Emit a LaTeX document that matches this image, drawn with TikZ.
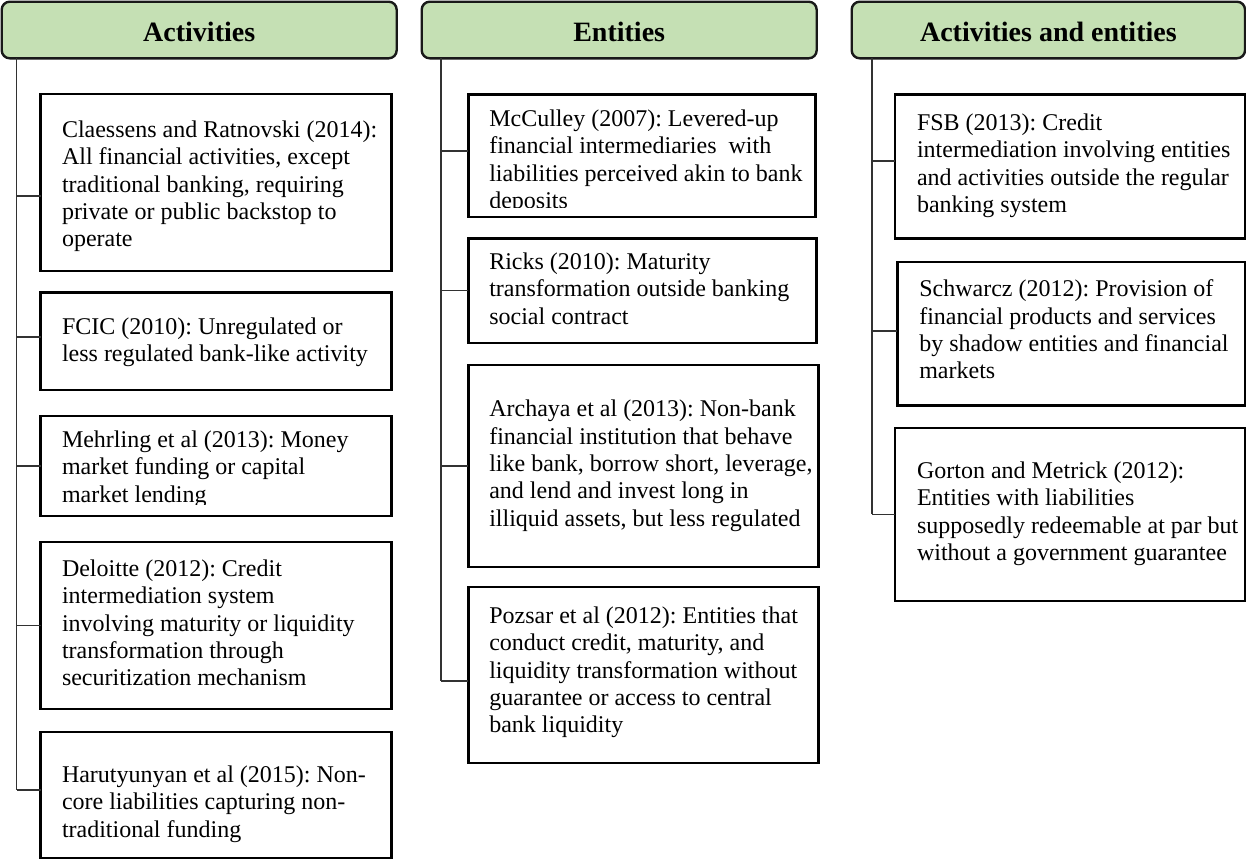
\documentclass[tikz,border=0pt]{standalone}
\usepackage{fontspec}
\setmainfont{Liberation Serif}
\frenchspacing
\definecolor{hdrgreen}{RGB}{197,224,180}
\definecolor{linkgray}{RGB}{50,50,50}
\begin{document}
\begin{tikzpicture}[x=1pt,y=-1pt,
  hdr/.style={draw=black!90, line width=2.4pt, fill=hdrgreen, rounded corners=8pt,
    font=\fontsize{28}{30}\selectfont\bfseries, text height=23pt, text depth=0pt,
    inner sep=0pt, outer sep=0pt},
  card/.style={draw=black, line width=2.5pt, inner sep=0pt, outer sep=0pt, anchor=north west},
  txt/.style={font=\fontsize{24}{27.3}\selectfont, align=left, inner sep=0pt,
    outer sep=0pt, anchor=north west, execute at begin node=\strut},
  link/.style={draw=linkgray, line width=1.4pt}]
\useasboundingbox (0,0) rectangle (1246,860);

% column headers
\node[hdr, minimum width=395pt, minimum height=56.6pt] (hA) at (199.2,30) {Activities};
\node[hdr, minimum width=395pt, minimum height=56.6pt] (hE) at (619.2,30) {Entities};
\node[hdr, minimum width=393.3pt, minimum height=56.6pt] (hB) at (1048.35,30) {Activities and entities};

% trunk positions
\coordinate (tA) at (16.5,0);
\coordinate (tE) at (441,0);
\coordinate (tB) at (872,0);

% ---- Activities column ----
\node[card, minimum width=351pt, minimum height=177pt] (a1) at (40.7,94) {};
\node[card, minimum width=351pt, minimum height=97.3pt] (a2) at (40.7,292.7) {};
\node[card, minimum width=351pt, minimum height=100pt] (a3) at (40.7,416) {};
\node[card, minimum width=351pt, minimum height=167pt] (a4) at (40.7,542) {};
\node[card, minimum width=351pt, minimum height=126pt] (a5) at (40.7,732) {};

\node[txt] (a1t) at (62,120.9) {Claessens and Ratnovski (2014):\\All financial activities, except\\traditional banking, requiring\\private or public backstop to\\operate};
\node[txt] (a2t) at (62,317.9) {FCIC (2010): Unregulated or\\less regulated bank-like activity};
\begin{scope}
  \clip (a3.north west) rectangle ([yshift=12pt]a3.south east);
  \node[txt] (a3t) at (62,430.9) {Mehrling et al (2013): Money\\market funding or capital\\market lending};
\end{scope}
\node[txt] (a4t) at (62,559.9) {Deloitte (2012): Credit\\intermediation system\\involving maturity or liquidity\\transformation through\\securitization mechanism};
\node[txt] (a5t) at (62,765.9) {Harutyunyan et al (2015): Non-\\core liabilities capturing non-\\traditional funding};

\coordinate (pa1) at ([yshift=-13.5pt]a1.west);
\coordinate (pa2) at ([yshift=4.5pt]a2.west);
\coordinate (pa3) at (a3.west);
\coordinate (pa4) at (a4.west);
\coordinate (pa5) at ([yshift=5pt]a5.west);
\draw[link] (hA.south -| tA) -- (pa5 -| tA);
\foreach \p in {pa1,pa2,pa3,pa4,pa5} \draw[link] (\p -| tA) -- (\p);

% ---- Entities column ----
\node[card, minimum width=347pt, minimum height=122.5pt] (e1) at (468.3,94.5) {};
\node[card, minimum width=348pt, minimum height=104.7pt] (e2) at (468.3,238.3) {};
\node[card, minimum width=350pt, minimum height=202pt] (e3) at (468.3,365) {};
\node[card, minimum width=350pt, minimum height=176pt] (e4) at (468.3,587) {};

\begin{scope}
  \clip (e1.north west) rectangle ([yshift=10pt]e1.south east);
  \node[txt] (e1t) at (489.3,109.9) {McCulley (2007): Levered-up\\financial intermediaries\ \ with\\liabilities perceived akin to bank\\deposits};
\end{scope}
\node[txt] (e2t) at (489.3,252.9) {Ricks (2010): Maturity\\transformation outside banking\\social contract};
\node[txt] (e3t) at (489.3,400.3) {Archaya et al (2013): Non-bank\\financial institution that behave\\like bank, borrow short, leverage,\\and lend and invest long in\\illiquid assets, but less regulated};
\node[txt] (e4t) at (489.3,606.9) {Pozsar et al (2012): Entities that\\conduct credit, maturity, and\\liquidity transformation without\\guarantee or access to central\\bank liquidity};

\coordinate (pe1) at ([yshift=4.75pt]e1.west);
\coordinate (pe2) at (e2.west);
\coordinate (pe3) at (e3.west);
\coordinate (pe4) at ([yshift=-6pt]e4.west);
\draw[link] (hE.south -| tE) -- (pe4 -| tE);
\foreach \p in {pe1,pe2,pe3,pe4} \draw[link] (\p -| tE) -- (\p);

% ---- Activities and entities column ----
\node[card, minimum width=350pt, minimum height=144pt] (r1) at (895,94.6) {};
\node[card, minimum width=348pt, minimum height=143.9pt] (r2) at (897.3,261.8) {};
\node[card, minimum width=350pt, minimum height=173.1pt] (r3) at (895,427.9) {};

\node[txt] (r1t) at (917,113.9) {FSB (2013): Credit\\intermediation involving entities\\and activities outside the regular\\banking system};
\node[txt] (r2t) at (919.3,279.9) {Schwarcz (2012): Provision of\\financial products and services\\by shadow entities and financial\\markets};
\node[txt] (r3t) at (917,461.9) {Gorton and Metrick (2012):\\Entities with liabilities\\supposedly redeemable at par but\\without a government guarantee};

\coordinate (pr1) at ([yshift=5.6pt]r1.west);
\coordinate (pr2) at ([yshift=2.75pt]r2.west);
\coordinate (pr3) at (r3.west);
\draw[link] (hB.south -| tB) -- (pr3 -| tB);
\foreach \p in {pr1,pr2,pr3} \draw[link] (\p -| tB) -- (\p);
\end{tikzpicture}
\end{document}
